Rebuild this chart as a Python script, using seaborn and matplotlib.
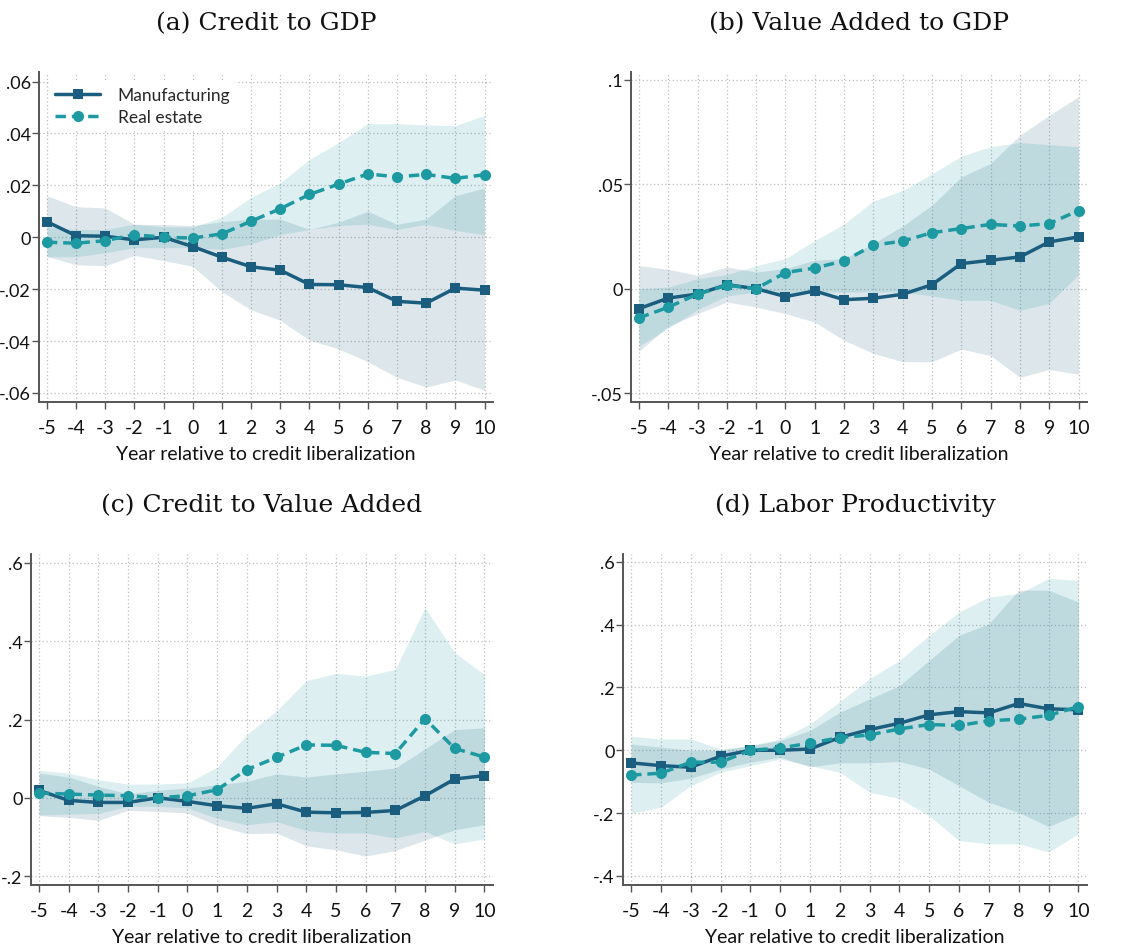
import numpy as np
import pandas as pd
import matplotlib
matplotlib.use("Agg")
import matplotlib.pyplot as plt
import seaborn as sns

# ---------------- data ----------------
years = [-5, -4, -3, -2, -1, 0, 1, 2, 3, 4, 5, 6, 7, 8, 9, 10]
series_names = ["Manufacturing", "Real estate"]
panel_titles = ["(a) Credit to GDP", "(b) Value Added to GDP",
                "(c) Credit to Value Added", "(d) Labor Productivity"]
xlabel_text = "Year relative to credit liberalization"

# (a) Credit to GDP
a_mfg = [0.006, 0.0006, 0.0004, -0.001, 0.0, -0.0036, -0.0077, -0.0114, -0.0127, -0.0182,
         -0.0183, -0.0194, -0.0247, -0.0254, -0.0196, -0.0204]
a_mfg_lo = [-0.0074, -0.0106, -0.011, -0.007, -0.009, -0.0112, -0.021, -0.028, -0.032, -0.0397,
            -0.043, -0.048, -0.054, -0.0577, -0.055, -0.059]
a_mfg_hi = [0.016, 0.0118, 0.0113, 0.005, 0.0049, 0.0045, 0.006, 0.007, 0.007, 0.003,
            0.0058, 0.010, 0.005, 0.007, 0.016, 0.019]
a_re = [-0.0019, -0.0023, -0.0013, 0.001, 0.0, -0.0003, 0.0013, 0.0062, 0.011, 0.0165,
        0.0205, 0.0244, 0.0233, 0.0242, 0.0227, 0.0241]
a_re_lo = [-0.0075, -0.0075, -0.006, -0.004, -0.004, -0.004, -0.0047, -0.0026, 0.001, 0.003,
           0.0045, 0.005, 0.003, 0.005, 0.0026, 0.001]
a_re_hi = [0.004, 0.003, 0.003, 0.005, 0.004, 0.004, 0.0077, 0.0154, 0.021, 0.030,
           0.0365, 0.0438, 0.0438, 0.0433, 0.043, 0.047]

# (b) Value Added to GDP
b_mfg = [-0.0096, -0.0045, -0.0026, 0.0019, 0.0, -0.0038, -0.0011, -0.0053, -0.0046, -0.0027,
         0.0019, 0.012, 0.0136, 0.0152, 0.0224, 0.0248]
b_mfg_lo = [-0.030, -0.018, -0.012, -0.0064, -0.0088, -0.012, -0.016, -0.0248, -0.031, -0.035,
            -0.035, -0.029, -0.032, -0.0425, -0.0387, -0.041]
b_mfg_hi = [0.011, 0.0093, 0.0064, 0.0104, 0.008, 0.0096, 0.0136, 0.0144, 0.0217, 0.030,
            0.040, 0.0535, 0.060, 0.0735, 0.083, 0.092]
b_re = [-0.014, -0.0089, -0.0026, 0.0016, 0.0, 0.0077, 0.0099, 0.0133, 0.0208, 0.0228,
        0.0268, 0.0288, 0.0308, 0.030, 0.0312, 0.0374]
b_re_lo = [-0.0275, -0.019, -0.010, -0.0035, -0.0016, -0.0024, -0.0016, -0.0016, -0.0016, -0.0016,
           -0.0035, -0.0056, -0.0056, -0.0104, -0.007, 0.0067]
b_re_hi = [0.0, 0.0008, 0.0048, 0.0067, 0.011, 0.0144, 0.023, 0.031, 0.042, 0.047,
           0.055, 0.0635, 0.068, 0.070, 0.069, 0.068]

# (c) Credit to Value Added
c_mfg = [0.0188, -0.0068, -0.012, -0.012, 0.0, -0.0094, -0.0205, -0.027, -0.0154, -0.0368,
         -0.0385, -0.0376, -0.0325, 0.005, 0.048, 0.0564]
c_mfg_lo = [-0.046, -0.05, -0.058, -0.032, -0.035, -0.039, -0.071, -0.092, -0.09, -0.123,
            -0.133, -0.149, -0.135, -0.108, -0.082, -0.069]
c_mfg_hi = [0.063, 0.053, 0.029, 0.010, 0.019, 0.025, 0.033, 0.042, 0.061, 0.053,
            0.061, 0.068, 0.076, 0.125, 0.174, 0.179]
c_re = [0.012, 0.0094, 0.0068, 0.005, 0.0, 0.005, 0.0205, 0.072, 0.103, 0.135,
        0.134, 0.116, 0.113, 0.202, 0.126, 0.104]
c_re_lo = [-0.044, -0.042, -0.040, -0.022, -0.022, -0.026, -0.053, -0.069, -0.061, -0.084,
           -0.09, -0.09, -0.103, -0.086, -0.118, -0.105]
c_re_hi = [0.070, 0.063, 0.046, 0.035, 0.035, 0.038, 0.078, 0.162, 0.222, 0.299,
           0.318, 0.311, 0.328, 0.486, 0.371, 0.315]

# (d) Labor Productivity
d_mfg = [-0.040, -0.049, -0.054, -0.019, 0.0, 0.0, 0.004, 0.041, 0.066, 0.086,
         0.113, 0.123, 0.119, 0.149, 0.132, 0.129]
d_mfg_lo = [-0.102, -0.104, -0.089, -0.06, -0.038, -0.022, -0.053, -0.04, -0.04, -0.036,
            -0.06, -0.113, -0.166, -0.198, -0.243, -0.203]
d_mfg_hi = [0.02, 0.01, 0.0, 0.0, 0.015, 0.031, 0.063, 0.121, 0.164, 0.206,
            0.286, 0.366, 0.403, 0.510, 0.510, 0.472]
d_re = [-0.079, -0.073, -0.038, -0.038, 0.0, 0.007, 0.023, 0.040, 0.049, 0.068,
        0.082, 0.079, 0.094, 0.099, 0.111, 0.139]
d_re_lo = [-0.2, -0.182, -0.113, -0.07, -0.049, -0.028, -0.049, -0.07, -0.134, -0.153,
           -0.209, -0.288, -0.298, -0.298, -0.324, -0.266]
d_re_hi = [0.045, 0.036, 0.036, 0.004, 0.015, 0.036, 0.084, 0.155, 0.228, 0.286,
           0.366, 0.440, 0.488, 0.499, 0.547, 0.541]

# tick values / labels
x_ticks = years
a_yticks = [-0.06, -0.04, -0.02, 0, 0.02, 0.04, 0.06]
a_ylabels = ["-.06", "-.04", "-.02", "0", ".02", ".04", ".06"]
b_yticks = [-0.05, 0, 0.05, 0.1]
b_ylabels = ["-.05", "0", ".05", ".1"]
c_yticks = [-0.2, 0, 0.2, 0.4, 0.6]
c_ylabels = ["-.2", "0", ".2", ".4", ".6"]
d_yticks = [-0.4, -0.2, 0, 0.2, 0.4, 0.6]
d_ylabels = ["-.4", "-.2", "0", ".2", ".4", ".6"]

# ---------------- style ----------------
sns.set_theme(style="white")
plt.rcParams["font.family"] = ["Lato", "DejaVu Sans"]

MFG_LINE = "#1a5d7e"
RE_LINE = "#1c99a1"
MFG_BAND = "#1a5d7e"
RE_BAND = "#1c99a1"
BAND_ALPHA = 0.15
AXIS_COL = "#555555"

W, H = 1139, 945
fig = plt.figure(figsize=(W / 100, H / 100), dpi=100)


def add_ax(l, r, t, b):
    return fig.add_axes([l / W, 1 - b / H, (r - l) / W, (b - t) / H])


panels = [
    dict(box=(39, 493, 73, 403), ylim=(-0.0635, 0.0637), yt=a_yticks, yl=a_ylabels,
         m=a_mfg, mlo=a_mfg_lo, mhi=a_mfg_hi, r=a_re, rlo=a_re_lo, rhi=a_re_hi, legend=True),
    dict(box=(631, 1087, 73, 403), ylim=(-0.0543, 0.1038), yt=b_yticks, yl=b_ylabels,
         m=b_mfg, mlo=b_mfg_lo, mhi=b_mfg_hi, r=b_re, rlo=b_re_lo, rhi=b_re_hi, legend=False),
    dict(box=(31, 493, 555, 886), ylim=(-0.223, 0.623), yt=c_yticks, yl=c_ylabels,
         m=c_mfg, mlo=c_mfg_lo, mhi=c_mfg_hi, r=c_re, rlo=c_re_lo, rhi=c_re_hi, legend=False),
    dict(box=(623, 1087, 555, 886), ylim=(-0.429, 0.625), yt=d_yticks, yl=d_ylabels,
         m=d_mfg, mlo=d_mfg_lo, mhi=d_mfg_hi, r=d_re, rlo=d_re_lo, rhi=d_re_hi, legend=False),
]

for p, title in zip(panels, panel_titles):
    ax = add_ax(*p["box"])
    df = pd.DataFrame({"year": years, "mfg": p["m"], "re": p["r"]})
    ax.fill_between(years, p["mlo"], p["mhi"], color=MFG_BAND, alpha=BAND_ALPHA, lw=0, zorder=1)
    ax.fill_between(years, p["rlo"], p["rhi"], color=RE_BAND, alpha=BAND_ALPHA, lw=0, zorder=1.1)
    sns.lineplot(data=df, x="year", y="mfg", ax=ax, color=MFG_LINE, lw=2.5,
                 marker="s", markersize=7.5, markeredgewidth=0, errorbar=None,
                 label=series_names[0], zorder=3)
    sns.lineplot(data=df, x="year", y="re", ax=ax, color=RE_LINE, lw=2.5,
                 linestyle=(0, (3, 1.7)), marker="o", markersize=8, markeredgewidth=0,
                 errorbar=None, label=series_names[1], zorder=3)
    ax.set_xlim(-5.27, 10.29)
    ax.set_ylim(*p["ylim"])
    ax.set_xticks(x_ticks)
    ax.set_xticklabels([str(v) for v in x_ticks])
    ax.set_yticks(p["yt"])
    ax.set_yticklabels(p["yl"])
    ax.grid(True, linestyle=(0, (1, 2)), color="#bdbdbd", lw=0.9)
    ax.set_axisbelow(True)
    for s in ["top", "right"]:
        ax.spines[s].set_visible(False)
    for s in ["left", "bottom"]:
        ax.spines[s].set_color(AXIS_COL)
        ax.spines[s].set_linewidth(1.4)
        ax.spines[s].set_zorder(4)
    ax.tick_params(axis="both", which="major", direction="out", length=5, width=1,
                   color=AXIS_COL, labelcolor="#111111", bottom=True, left=True)
    ax.tick_params(axis="x", pad=7, labelsize=14)
    ax.tick_params(axis="y", pad=1, labelsize=13)
    ax.set_xlabel(xlabel_text, fontsize=14, color="#111111", labelpad=7)
    ax.set_ylabel("")
    ax.set_title(title, fontfamily="DejaVu Serif", fontsize=18, pad=31, color="#111111")
    if p["legend"]:
        leg = ax.legend(loc="upper left", bbox_to_anchor=(0.022, 0.974), frameon=True,
                        facecolor="white", edgecolor="none", framealpha=1,
                        fontsize=12.5, handlelength=2.6, handletextpad=1.0,
                        labelspacing=0.35, borderpad=0.35, borderaxespad=0.0)
        leg.set_zorder(2.5)
    else:
        lg = ax.get_legend()
        if lg is not None:
            lg.remove()

fig.savefig("out.png", dpi=100, facecolor="white")
